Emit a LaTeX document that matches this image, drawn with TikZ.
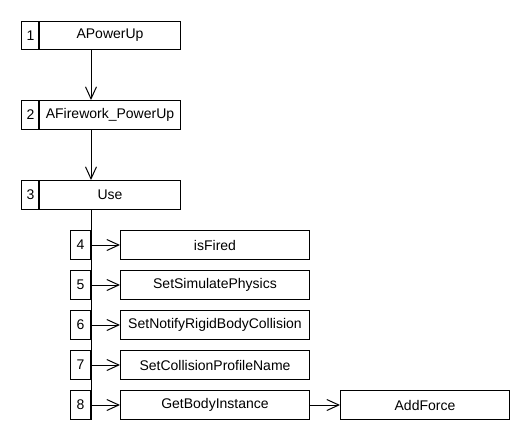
\documentclass[tikz,border=0pt]{standalone}
\usepackage{fontspec}
\setmainfont{Liberation Sans}
\usetikzlibrary{arrows.meta}
\begin{document}
\begin{tikzpicture}[x=1pt,y=-1pt,
  box/.style={draw,line width=1pt,inner sep=0pt,anchor=north west,font=\fontsize{14}{16}\selectfont},
  arr/.style={line width=1pt,-{Straight Barb[length=12pt,width=11pt,line width=1pt]}},
  ln/.style={line width=1pt},
  sep/.style={line width=2pt}]
\useasboundingbox[fill=white] (0,0) rectangle (530,440);
% top boxes
\node[box,minimum width=18pt,minimum height=28pt] (n1) at (21,21) {1};
\node[box,minimum width=141pt,minimum height=28pt] (b1) at (39,21) {APowerUp};
\node[box,minimum width=18pt,minimum height=29pt] (n2) at (21,100) {2};
\node[box,minimum width=141pt,minimum height=29pt] (b2) at (39,100) {AFirework\_PowerUp};
\node[box,minimum width=18pt,minimum height=29pt] (n3) at (21,180) {3};
\node[box,minimum width=141pt,minimum height=29pt] (b3) at (39,180) {Use};
\draw[sep] (b1.north west) -- (b1.south west);
\draw[sep] (b2.north west) -- (b2.south west);
\draw[sep] (b3.north west) -- (b3.south west);
% numbered rows
\foreach \i/\y/\t in {4/230/isFired,5/270/SetSimulatePhysics,6/310/SetNotifyRigidBodyCollision,7/350/SetCollisionProfileName,8/390/GetBodyInstance}{
  \node[box,minimum width=20pt,minimum height=29pt] (n\i) at (70,\y) {\i};
  \node[box,minimum width=189pt,minimum height=29pt] (b\i) at (120,\y) {\t};
}
\node[box,minimum width=169pt,minimum height=29pt] (af) at (340,390) {AddForce};
% connectors
\draw[arr] (b1.south -| n4.east) -- (b2.north -| n4.east);
\draw[arr] (b2.south -| n4.east) -- (b3.north -| n4.east);
\draw[ln] (b3.south -| n4.east) -- (n8.south east);
\foreach \i in {4,...,8}{\draw[arr] (n\i.east) -- (b\i.west);}
\draw[arr] (b8.east) -- (af.west);
\end{tikzpicture}
\end{document}
